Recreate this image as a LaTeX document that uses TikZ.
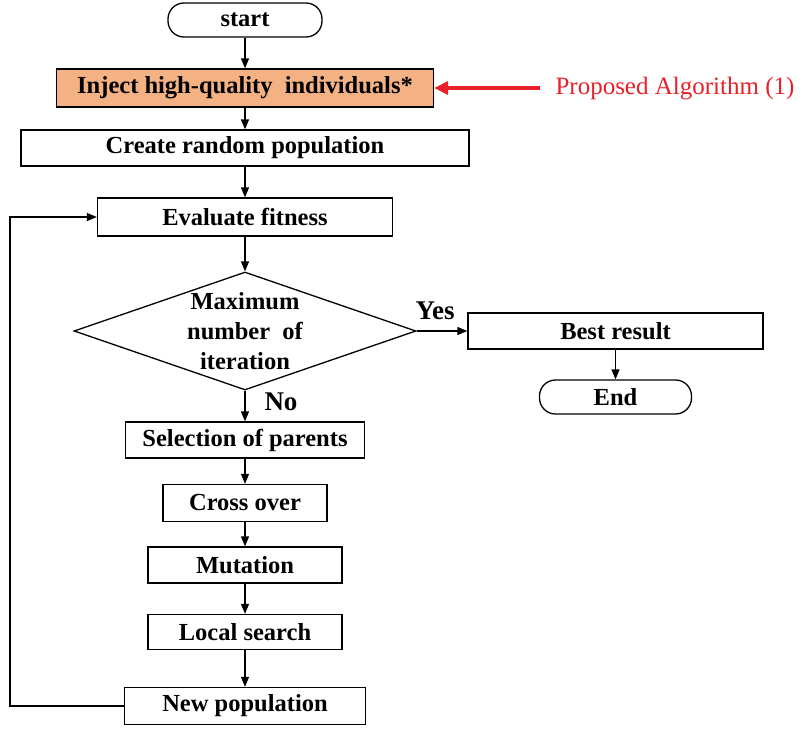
\documentclass[tikz,border=0pt]{standalone}
\usepackage{fontspec}
\setmainfont{Liberation Serif}
\usetikzlibrary{arrows.meta,shapes.geometric}
\definecolor{injfill}{HTML}{F4B183}
\definecolor{propred}{HTML}{E8202A}
\begin{document}
\begin{tikzpicture}[x=1pt,y=-1pt,
  box/.style={draw, line width=1.3pt, inner sep=0pt, font=\fontsize{24.5}{28}\selectfont\bfseries},
  term/.style={box, rounded corners=16pt},
  conn/.style={line width=1.3pt, -{Triangle[length=10pt,width=8pt]}},
  lab/.style={font=\fontsize{27}{30}\selectfont\bfseries}]
\useasboundingbox (0,0) rectangle (801,731);
\node[term, minimum width=154pt, minimum height=34pt] (start) at (245,20) {start};
\node[box, fill=injfill, minimum width=377pt, minimum height=38pt] (inject) at (245,88) {Inject high-quality\ \ individuals*};
\node[box, minimum width=448pt, minimum height=36pt] (create) at (245,148) {Create random\ population};
\node[box, minimum width=295pt, minimum height=38pt] (eval) at (245,217) {Evaluate fitness};
\node[draw, line width=1.3pt, diamond, minimum width=342pt, minimum height=118pt, inner sep=0pt] (dec) at (245,331) {};
\node[align=center, font=\fontsize{24.5}{30}\selectfont\bfseries] (dectext) at (245,331) {Maximum\\number\ \ of\\iteration};
\node[box, minimum width=295pt, minimum height=36pt] (best) at (615.5,331) {Best result};
\node[term, minimum width=152pt, minimum height=34pt] (end) at (615.5,397) {End};
\node[box, minimum width=239pt, minimum height=36pt] (sel) at (245,440) {Selection of parents};
\node[box, minimum width=164pt, minimum height=37pt] (cross) at (245,503) {Cross\ over};
\node[box, minimum width=194pt, minimum height=36pt] (mut) at (245,565) {Mutation};
\node[box, minimum width=194pt, minimum height=35pt] (local) at (245,632) {Local search};
\node[box, minimum width=241pt, minimum height=37pt] (newpop) at (245,706) {New population};
\node[lab] (yes) at (435,311) {Yes};
\node[lab] (no) at (281,402) {No};
\node[anchor=west, text=propred, font=\fontsize{25}{29}\selectfont] (prop) at (552,89) {Proposed Algorithm (1)};
\coordinate (redstart) at (540,88);
\coordinate (c1) at (10,706);
\coordinate (c2) at (10,217);
\draw[conn] (start) -- (inject);
\draw[conn] (inject) -- (create);
\draw[conn] (create) -- (eval);
\draw[conn] (eval) -- (dec.north);
\draw[conn] (dec.east) -- (best.west);
\draw[conn] (best) -- (end);
\draw[conn] (dec.south) -- (sel.north);
\draw[conn] (sel) -- (cross);
\draw[conn] (cross) -- (mut);
\draw[conn] (mut) -- (local);
\draw[conn] (local) -- (newpop);
\draw[conn] (newpop.west) -- (c1) -- (c2) -- (eval.west);
\draw[line width=3.5pt, propred, -{Triangle[length=14pt,width=13pt]}] (redstart) -- (inject.east);
\end{tikzpicture}
\end{document}
